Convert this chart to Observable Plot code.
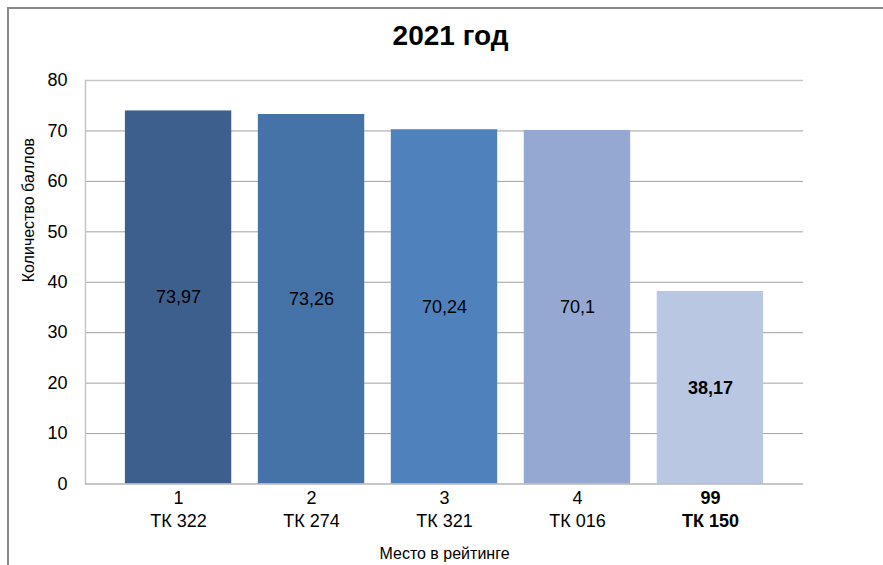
<!DOCTYPE html>
<html>
<head>
<meta charset="utf-8">
<script src="https://cdn.jsdelivr.net/npm/d3@7"></script>
<script src="https://cdn.jsdelivr.net/npm/@observablehq/plot@0.6"></script>
<style>
  html, body { margin: 0; padding: 0; background: #fff; }
  #wrap { position: relative; width: 883px; height: 565px; overflow: hidden; }
  #border { position: absolute; left: 7px; top: 7px; width: 900px; height: 600px;
            border-left: 2px solid #888; border-top: 2px solid #888; pointer-events: none; }
</style>
</head>
<body>
<div id="wrap"><div id="border"></div></div>
<script>
const places = ["1", "2", "3", "4", "99"];
const names = ["ТК 322", "ТК 274", "ТК 321", "ТК 016", "ТК 150"];
const values = [73.97, 73.26, 70.24, 70.1, 38.17];
const highlighted = [false, false, false, false, true];
const colors = ["#3d5f8d", "#4572a7", "#4f81bd", "#95a8d1", "#bac7e2"];
const yTicks = [0, 10, 20, 30, 40, 50, 60, 70, 80];
const title = "2021 год";
const yLabel = "Количество баллов";
const xLabel = "Место в рейтинге";

const data = names.map((name, i) => ({
  name, place: places[i], value: values[i], bold: highlighted[i],
  label: String(values[i]).replace(".", ",")
}));
const normal = data.filter(d => !d.bold);
const bold = data.filter(d => d.bold);
const font = "Liberation Sans, Arial, sans-serif";

const chart = Plot.plot({
  width: 883,
  height: 565,
  marginLeft: 85,
  marginRight: 80,
  marginTop: 80,
  marginBottom: 81.5,
  style: { fontFamily: font, background: "transparent", overflow: "visible" },
  x: { domain: names, paddingInner: 0.2, paddingOuter: 0.3, round: false, axis: null },
  y: { domain: [0, 80], axis: null },
  color: { domain: names, range: colors },
  marks: [
    Plot.ruleY(yTicks.filter(t => t > 0 && t < 80), { stroke: "#a0a0a0", strokeWidth: 1 }),
    Plot.ruleY([80], { stroke: "#c6c6c6", strokeWidth: 1.5 }),
    Plot.frame({ anchor: "left", stroke: "#c6c6c6", strokeWidth: 1.5 }),
    Plot.barY(data, { x: "name", y: "value", fill: "name" }),
    Plot.ruleY([0], { stroke: "#b4b4b4", strokeWidth: 1.5 }),
    Plot.axisY({ ticks: yTicks, tickSize: 0, tickPadding: 18, fontSize: 18, label: null, tickFormat: d => String(d) }),
    Plot.text(normal, { x: "name", y: d => d.value / 2, text: "label", fontSize: 18, fill: "#000" }),
    Plot.text(bold, { x: "name", y: d => d.value / 2, text: "label", fontSize: 18, fontWeight: "bold", fill: "#000" }),
    Plot.text(normal, { x: "name", y: () => 0, text: "place", dy: 14, fontSize: 18, fill: "#000" }),
    Plot.text(normal, { x: "name", y: () => 0, text: "name", dy: 37, fontSize: 18, fill: "#000" }),
    Plot.text(bold, { x: "name", y: () => 0, text: "place", dy: 14, fontSize: 18, fontWeight: "bold", fill: "#000" }),
    Plot.text(bold, { x: "name", y: () => 0, text: "name", dy: 37, fontSize: 18, fontWeight: "bold", fill: "#000" }),
    Plot.text([title], { frameAnchor: "top", lineAnchor: "middle", dy: -44, dx: 6, fontSize: 28, fontWeight: "bold", fill: "#000" }),
    Plot.text([yLabel], { frameAnchor: "left", rotate: -90, dx: -57, fontSize: 16, fill: "#000" }),
    Plot.text([xLabel], { frameAnchor: "bottom", lineAnchor: "middle", dy: 70, fontSize: 16, fill: "#000" })
  ]
});
chart.style.position = "absolute";
chart.style.left = "0";
chart.style.top = "0";
const wrap = document.getElementById("wrap");
wrap.insertBefore(chart, wrap.firstChild);
</script>
</body>
</html>
